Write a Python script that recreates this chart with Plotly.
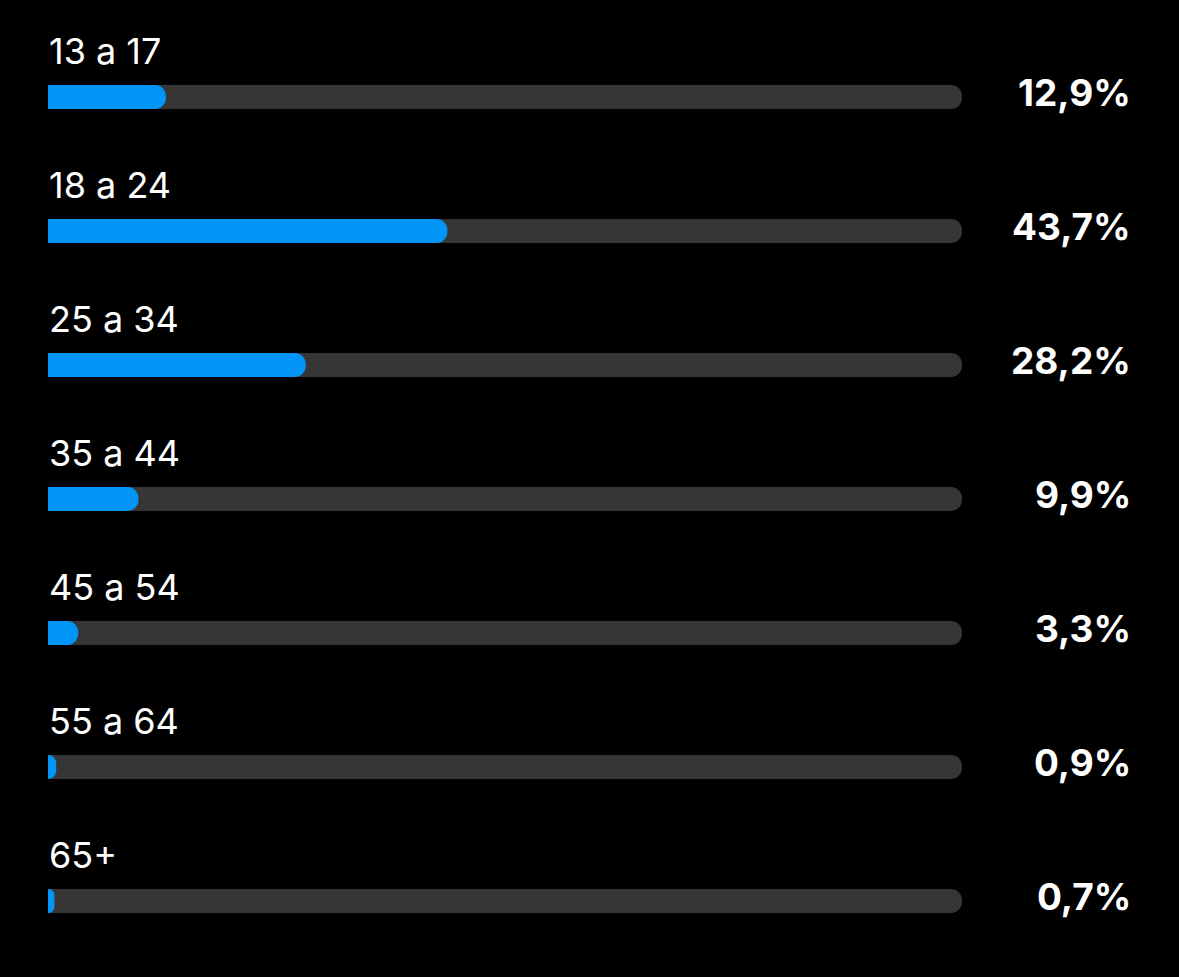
import plotly.graph_objects as go

# age groups and audience share (%)
groups = ["13 a 17", "18 a 24", "25 a 34", "35 a 44", "45 a 54", "55 a 64", "65+"]
shares = [12.9, 43.7, 28.2, 9.9, 3.3, 0.9, 0.7]
share_labels = ["12,9%", "43,7%", "28,2%", "9,9%", "3,3%", "0,9%", "0,7%"]

pos = list(range(len(groups)))
BLUE = "#0095F6"
TRACK = "#363636"
Y_RANGE = [6.567, -0.724]

fig = go.Figure()
# gray track behind every bar
fig.add_trace(go.Bar(
    x=[100] * len(groups), y=pos, orientation="h",
    marker=dict(color=TRACK, cornerradius=12, line=dict(width=0)),
    width=0.178, hoverinfo="skip",
))
# blue fill on its own overlaid axes so it gets its own rounded end
fig.add_trace(go.Bar(
    x=shares, y=pos, orientation="h", xaxis="x2", yaxis="y2",
    marker=dict(color=BLUE, cornerradius=12, line=dict(width=0)),
    width=0.178, hoverinfo="skip",
))

for p, g, lab in zip(pos, groups, share_labels):
    fig.add_annotation(
        x=0, y=p, xref="x", yref="y", text=g, showarrow=False,
        xanchor="left", yanchor="middle", xshift=-1, yshift=46,
        font=dict(family="Inter", size=36, color="white"),
    )
    fig.add_annotation(
        x=1, y=p, xref="paper", yref="y", text="<b>" + lab + "</b>", showarrow=False,
        xanchor="right", yanchor="middle", xshift=171, yshift=5,
        font=dict(family="Inter", size=37, color="white"),
    )

fig.update_layout(
    width=1179, height=977,
    margin=dict(l=48, r=217, t=0, b=0),
    paper_bgcolor="black", plot_bgcolor="black",
    barmode="overlay", showlegend=False,
    xaxis=dict(range=[0, 100], visible=False, fixedrange=True),
    yaxis=dict(range=Y_RANGE, visible=False, fixedrange=True),
    xaxis2=dict(range=[0, 100], visible=False, fixedrange=True, overlaying="x"),
    yaxis2=dict(range=Y_RANGE, visible=False, fixedrange=True, overlaying="y"),
)

fig.write_html(
    "out.html",
    config={"displayModeBar": False},
    post_script="document.body.style.margin='0';document.body.style.background='black';",
)
